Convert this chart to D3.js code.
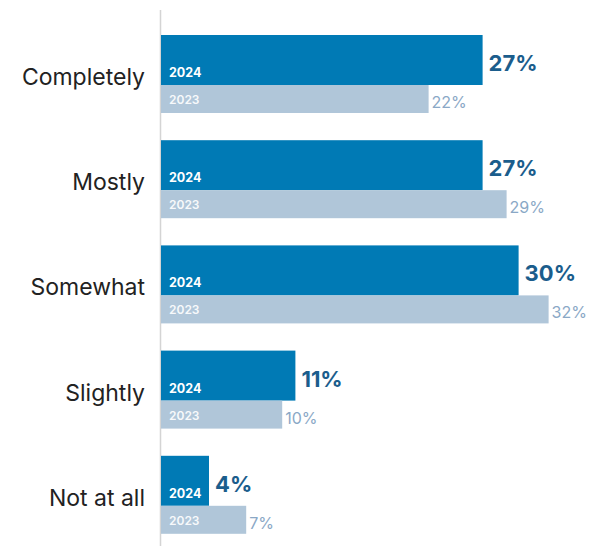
<!DOCTYPE html>
<html>
<head>
<meta charset="utf-8">
<script src="https://cdn.jsdelivr.net/npm/d3@7"></script>
<style>
  body { margin: 0; background: #fff; }
  text { font-family: Inter, "Noto Sans", sans-serif; }
</style>
</head>
<body>
<svg></svg>
<script>
var w = 604;
var h = 546;

var categories = ["Completely", "Mostly", "Somewhat", "Slightly", "Not at all"];
var values2024 = [26.8, 26.8, 29.8, 11.2, 4.0];
var values2023 = [22.3, 28.8, 32.3, 10.1, 7.1];
var labels2024 = ["27%", "27%", "30%", "11%", "4%"];
var labels2023 = ["22%", "29%", "32%", "10%", "7%"];

var svg = d3.select("svg").attr("width", w).attr("height", h);

var x = d3.scaleLinear().domain([0, 10]).range([161, 281]);
var y = d3.scaleBand().domain(categories).range([31, 557]).paddingInner(0).paddingOuter(0);

var h24 = 50;
var h23 = 28;

// axis line
svg.append("line")
  .attr("x1", 160.5).attr("x2", 160.5)
  .attr("y1", 10).attr("y2", h)
  .style("stroke", "#d4d4d4")
  .attr("stroke-width", 1.5);

var rows = categories.map((c, i) => ({
  cat: c, v24: values2024[i], v23: values2023[i], l24: labels2024[i], l23: labels2023[i]
}));

var g = svg.selectAll("g.row")
  .data(rows)
  .enter()
  .append("g")
  .attr("class", "row")
  .attr("transform", (d) => "translate(0," + (y(d.cat) + 4) + ")");

g.append("rect")
  .attr("x", x(0))
  .attr("y", 0)
  .attr("width", (d) => x(d.v24) - x(0))
  .attr("height", h24)
  .style("fill", "#007ab5");

g.append("rect")
  .attr("x", x(0))
  .attr("y", h24)
  .attr("width", (d) => x(d.v23) - x(0))
  .attr("height", h23)
  .style("fill", "#b0c6d9");

g.append("text")
  .attr("x", 169)
  .attr("y", 42)
  .text("2024")
  .style("fill", "#fff")
  .style("font-weight", "700")
  .style("font-size", "12.5px");

g.append("text")
  .attr("x", 169)
  .attr("y", h24 + 19)
  .text("2023")
  .style("fill", "#fff")
  .style("font-weight", "600")
  .style("font-size", "12px")
  .style("opacity", 0.9);

g.append("text")
  .attr("x", (d) => x(d.v24) + 6)
  .attr("y", 36)
  .text((d) => d.l24)
  .style("fill", "#1b5d8c")
  .style("font-weight", "700")
  .style("font-size", "22px");

g.append("text")
  .attr("x", (d) => x(d.v23) + 3)
  .attr("y", h24 + 23)
  .text((d) => d.l23)
  .style("fill", "#8aa8c6")
  .style("font-size", "16px");

g.append("text")
  .attr("x", 145)
  .attr("y", 50)
  .attr("text-anchor", "end")
  .text((d) => d.cat)
  .style("fill", "#222")
  .style("font-size", "23px");
</script>
</body>
</html>
